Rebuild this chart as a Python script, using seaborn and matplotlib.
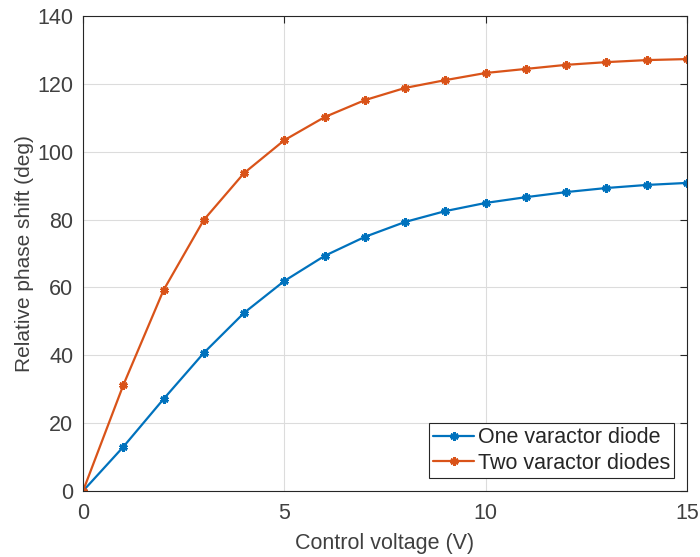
import matplotlib
matplotlib.use("Agg")
import matplotlib.pyplot as plt
import seaborn as sns
import pandas as pd

voltage = [0, 1, 2, 3, 4, 5, 6, 7, 8, 9, 10, 11, 12, 13, 14, 15]
one_diode = [0, 13.0, 27.1, 40.7, 52.5, 61.9, 69.3, 74.9, 79.3, 82.5, 84.9, 86.6, 88.1, 89.3, 90.2, 90.8]
two_diodes = [0, 31.2, 59.2, 79.9, 93.7, 103.4, 110.2, 115.2, 118.8, 121.1, 123.2, 124.4, 125.6, 126.4, 127.0, 127.3]
labels = ["One varactor diode", "Two varactor diodes"]
colors = ["#0072BD", "#D95319"]

df = pd.concat([
    pd.DataFrame({"V": voltage, "phase": one_diode, "series": labels[0]}),
    pd.DataFrame({"V": voltage, "phase": two_diodes, "series": labels[1]}),
])

sns.set_style("white")
plt.rcParams["font.family"] = ["Liberation Sans", "DejaVu Sans"]

fig = plt.figure(figsize=(7, 5.57), dpi=100)
ax = fig.add_axes([0.1186, 0.1185, 0.8628, 0.8528])

sns.lineplot(data=df, x="V", y="phase", hue="series", palette=colors,
             marker=(6, 2, 0), markersize=6, markeredgewidth=2,
             linewidth=1.6, ax=ax, legend=False)
for ln, c, lab in zip(ax.lines, colors, labels):
    ln.set_markeredgecolor(c)
    ln.set_markerfacecolor(c)
    ln.set_label(lab)

ax.set_xlim(0, 15)
ax.set_ylim(0, 140)
ax.set_xticks([0, 5, 10, 15])
ax.set_yticks(range(0, 141, 20))
ax.grid(True, color="#dcdcdc", linewidth=0.8)
ax.set_axisbelow(True)
for s in ax.spines.values():
    s.set_color("#262626")
    s.set_linewidth(0.8)
ax.tick_params(direction="in", length=5, width=0.8, colors="#262626",
               labelsize=15.5, top=True, right=True, labeltop=False, labelright=False)
ax.tick_params(axis="x", labelcolor="#404040", pad=9)
ax.tick_params(axis="y", labelcolor="#404040", pad=7)
ax.set_xlabel("Control voltage (V)", fontsize=15.5, color="#404040", labelpad=6)
ax.set_ylabel("Relative phase shift (deg)", fontsize=15, color="#404040", labelpad=2)

leg = ax.legend(handles=ax.lines[:2], loc="lower right", fontsize=15.5, frameon=True,
                fancybox=False, edgecolor="#262626", handlelength=1.9,
                handletextpad=0.15, borderpad=0.2, labelspacing=0.2,
                borderaxespad=0.6, framealpha=1)
leg.get_frame().set_linewidth(0.8)
for t in leg.get_texts():
    t.set_color("#262626")

fig.savefig("out.png", dpi=100)
